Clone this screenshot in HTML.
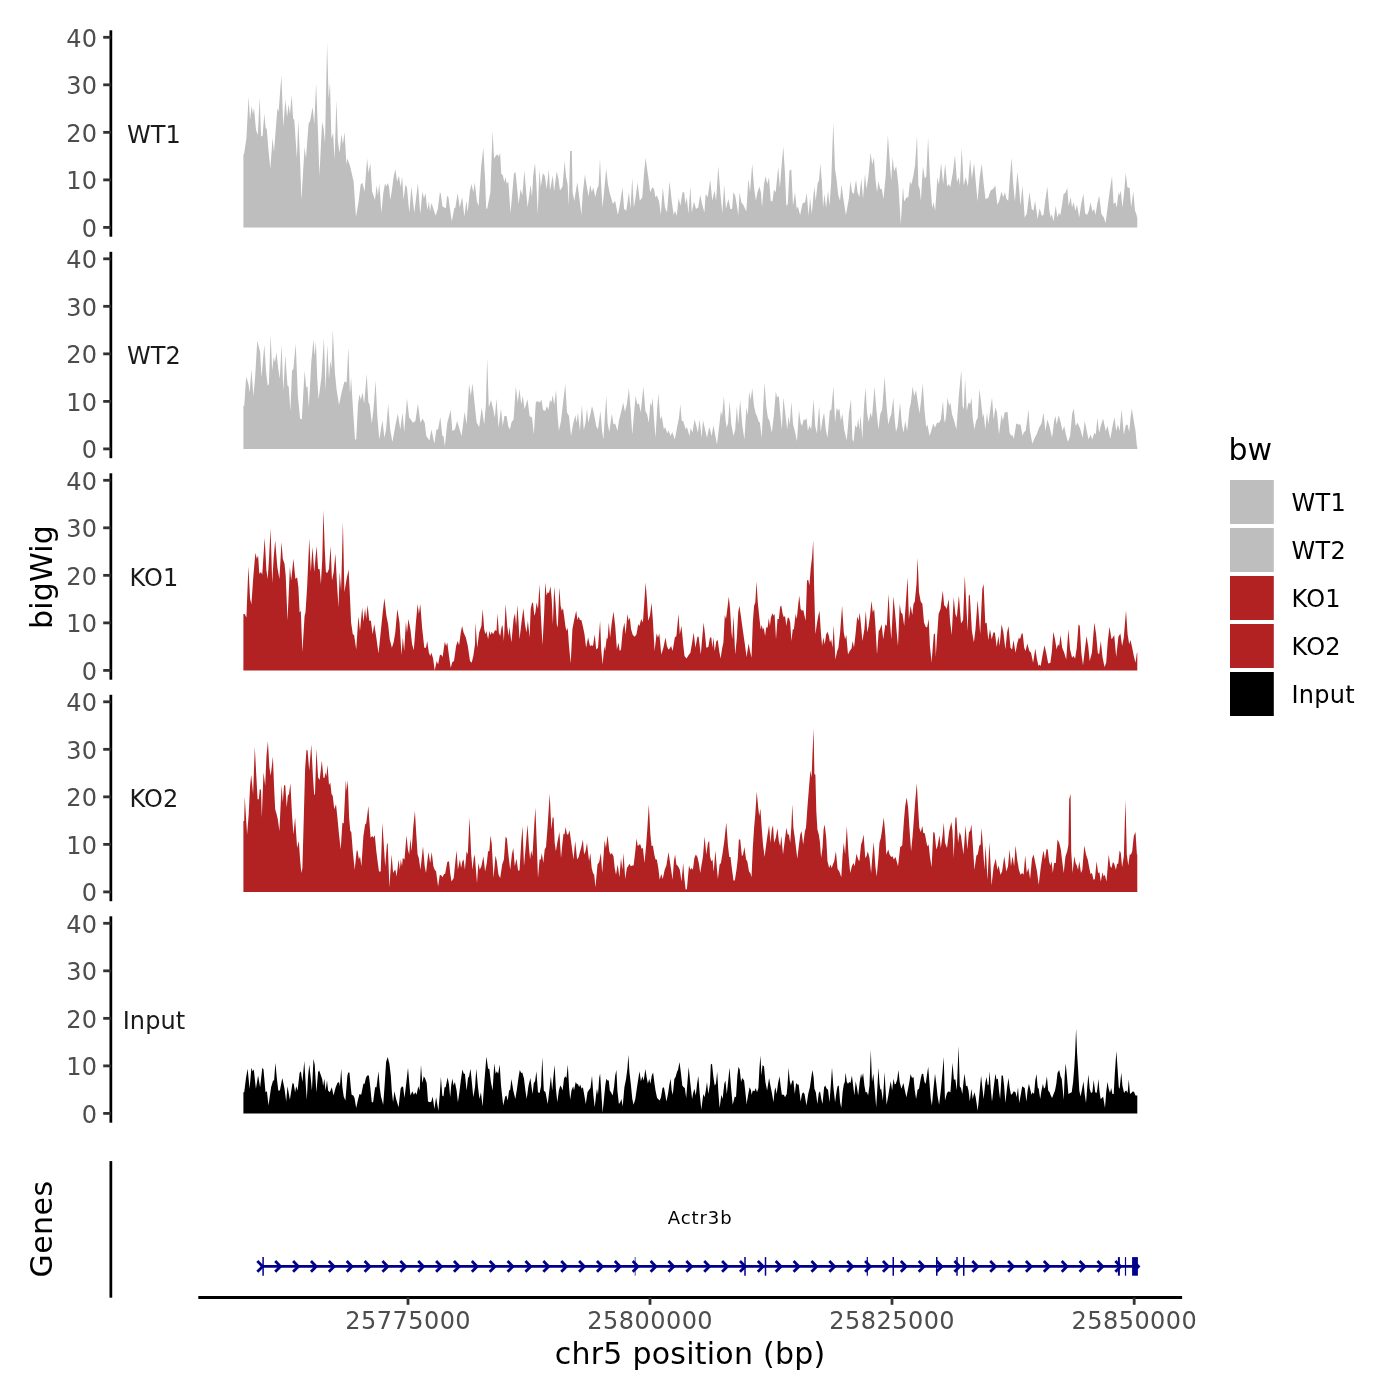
<!DOCTYPE html><html><head><meta charset="utf-8"><title>bigWig tracks</title><style>html,body{margin:0;padding:0;background:#fff}svg{display:block}text{font-family:"DejaVu Sans","Liberation Sans",sans-serif}</style></head><body>
<svg width="1400" height="1400" viewBox="0 0 1400 1400">
<rect width="1400" height="1400" fill="#fff"/>
<path d="M243.4 227.40L243.4 154.3L244.0 154.3L246.4 138.6L248.6 96.4L250.0 120.0L251.7 105.7L252.9 114.3L254.0 107.9L256.0 130.0L257.9 135.0L259.6 97.1L261.1 136.4L262.6 135.7L264.3 113.6L265.7 128.6L266.7 128.6L268.6 151.4L270.3 168.6L272.6 137.9L274.0 152.1L277.4 107.9L278.6 112.1L281.4 75.0L283.3 127.1L285.4 99.3L287.1 117.1L288.6 104.3L290.0 114.3L291.7 95.0L293.1 118.6L294.3 120.0L296.9 158.6L298.3 120.0L300.0 158.6L301.4 200.0L304.6 147.1L306.0 158.6L308.6 123.6L310.0 121.4L312.6 107.1L314.3 124.3L316.1 83.6L317.9 130.0L319.4 175.7L322.1 122.1L323.6 128.6L325.0 142.9L327.1 42.9L328.6 98.6L330.0 82.9L331.4 138.6L333.1 132.9L334.6 160.0L336.4 100.0L337.9 141.4L339.6 152.9L341.4 134.3L342.9 144.3L344.6 132.1L346.4 164.3L347.4 158.6L350.0 165.7L353.6 181.4L356.0 217.1L358.6 201.4L360.7 184.3L362.4 182.9L364.6 191.4L367.1 158.6L368.6 172.9L370.3 162.9L372.1 191.4L375.0 200.0L376.7 185.0L377.9 195.7L379.3 183.6L381.4 212.9L383.3 192.9L385.0 183.6L386.4 186.4L387.6 182.9L389.0 186.4L390.3 200.0L391.7 191.4L393.6 177.1L395.4 169.3L397.1 181.4L398.9 175.7L400.7 187.1L402.1 176.4L403.6 200.0L405.4 185.0L406.9 187.1L409.3 212.9L411.4 186.4L414.3 212.9L417.9 182.9L420.3 214.3L422.4 191.4L424.0 198.6L425.4 192.9L427.4 210.0L428.9 201.4L430.0 211.4L431.4 202.9L435.7 215.7L437.9 208.6L439.9 192.1L440.8 193.9L442.5 206.5L445.9 208.2L447.1 195.6L448.4 197.3L451.8 221.6L454.3 208.2L455.4 207.4L457.6 193.1L459.8 207.4L462.2 197.3L464.3 216.6L466.5 200.7L467.7 212.4L469.9 190.6L471.6 183.9L473.2 192.3L474.8 182.5L476.9 201.5L478.6 205.7L481.1 167.1L483.3 147.8L485.0 177.2L486.2 209.0L487.3 208.2L490.4 192.3L492.5 131.0L494.1 158.7L496.2 155.3L497.9 154.5L498.8 157.0L500.1 152.8L501.3 173.8L502.9 175.5L504.3 182.2L505.5 177.2L506.8 183.9L508.3 181.3L510.5 213.2L512.5 190.6L513.9 173.8L515.5 172.1L517.2 188.9L518.6 204.0L520.6 188.9L522.3 195.6L524.4 170.4L526.5 195.6L527.6 207.4L530.6 184.7L532.0 197.3L533.2 175.5L535.0 162.9L536.2 180.5L537.7 214.1L539.5 168.8L540.7 187.2L542.9 172.9L544.9 176.3L546.6 188.9L548.8 169.6L550.0 190.6L552.8 175.5L554.1 191.4L556.7 171.3L558.4 178.8L560.0 190.6L562.5 186.4L564.6 161.2L566.2 177.2L567.6 183.9L568.8 205.7L570.1 151.1L571.8 151.1L572.6 192.3L574.3 200.7L577.3 182.2L579.3 197.3L581.4 214.9L582.7 193.9L584.9 174.6L586.9 187.2L588.6 196.4L590.2 184.7L591.9 192.3L593.3 187.2L595.3 197.3L597.0 188.9L598.6 185.5L600.0 158.7L601.1 183.9L602.5 207.4L604.2 190.6L606.2 168.4L607.9 183.9L609.5 192.3L612.9 204.0L615.1 200.7L617.9 214.9L620.5 200.7L622.5 187.2L624.1 209.0L626.3 210.7L628.9 192.3L630.5 209.0L632.2 178.0L633.9 207.4L635.6 197.3L637.6 182.5L639.8 200.7L642.3 197.3L644.0 173.8L645.6 157.8L647.3 170.4L649.0 182.2L650.2 192.3L652.4 187.2L654.0 188.9L655.4 197.3L656.9 195.6L659.1 201.5L660.8 214.9L662.8 187.2L665.0 207.4L667.0 212.4L669.5 181.3L671.7 200.7L673.7 214.9L675.0 210.7L676.7 215.8L678.7 198.1L680.4 205.7L682.5 192.3L684.2 192.3L685.4 204.0L686.8 197.3L688.4 214.1L690.4 186.4L691.8 212.4L694.0 201.5L696.0 209.0L698.2 207.4L700.2 194.8L701.9 203.2L704.4 212.4L705.7 193.9L707.7 197.3L710.2 179.7L712.3 200.7L714.5 190.6L716.1 200.7L718.3 166.2L720.3 192.3L722.3 213.2L724.2 184.7L725.9 209.0L728.4 199.0L730.4 209.0L732.1 209.0L733.4 192.3L735.1 195.6L736.6 204.0L738.3 214.9L739.6 192.3L741.3 202.3L743.8 205.7L746.3 211.6L748.4 178.8L750.0 192.3L752.2 163.7L754.2 188.9L755.9 200.7L757.3 193.1L759.4 186.4L761.0 193.1L762.0 207.4L764.0 183.9L765.6 176.3L767.3 183.9L769.0 177.2L770.7 200.7L772.4 201.5L774.0 189.7L775.7 192.3L778.2 167.1L779.9 188.1L781.6 165.4L783.3 146.6L785.0 173.8L786.3 205.7L787.8 204.0L789.5 170.4L791.3 169.6L793.0 205.7L795.0 192.3L796.7 209.0L797.9 206.5L800.1 214.9L802.6 203.2L805.1 202.3L806.8 193.1L808.5 215.8L810.1 198.1L811.8 214.1L814.3 186.4L815.7 200.7L817.7 183.0L819.0 180.5L820.4 163.7L821.9 182.2L823.1 207.4L824.4 193.9L826.1 207.4L828.1 190.6L829.4 205.7L831.1 183.9L833.3 122.6L835.0 168.8L836.5 178.8L838.2 194.8L840.0 200.7L841.5 184.7L843.4 199.0L845.9 214.9L848.8 199.0L850.4 181.3L852.1 192.3L853.8 193.9L856.0 179.7L857.6 192.3L859.3 197.3L861.3 178.8L863.0 199.0L865.0 173.8L866.4 188.9L868.4 176.3L870.6 152.8L872.2 164.6L873.9 157.8L875.6 180.5L877.0 192.3L878.5 181.3L880.1 188.9L881.8 188.9L883.5 199.0L885.7 175.5L887.9 135.2L889.9 163.7L891.2 180.5L892.7 157.0L894.1 171.3L896.2 166.2L898.3 183.9L900.8 224.2L903.0 186.4L904.1 201.5L906.7 197.3L908.3 197.3L910.0 181.3L911.3 184.7L913.4 175.5L915.0 165.4L917.0 136.0L918.4 185.5L919.7 188.9L920.9 200.7L922.9 166.2L924.8 178.8L926.3 176.3L928.1 137.7L930.1 180.5L932.2 208.2L933.5 202.3L935.2 210.7L937.4 177.2L938.9 184.7L941.1 162.9L943.1 183.9L945.2 163.7L947.3 186.4L949.0 183.9L950.3 187.2L952.8 172.9L955.0 155.3L957.0 182.2L958.7 177.2L959.9 185.5L961.7 147.8L963.7 185.5L965.7 177.2L967.9 186.4L970.1 158.7L971.8 178.8L974.1 162.9L975.8 182.2L977.5 201.5L979.7 177.2L981.7 163.7L983.9 185.5L985.5 199.0L988.1 198.1L990.6 190.6L993.1 188.9L995.3 185.5L997.3 204.8L999.0 201.5L1001.5 191.4L1003.2 197.3L1004.9 192.3L1006.5 199.0L1008.2 200.7L1009.9 177.2L1011.6 157.8L1013.2 183.9L1014.9 201.5L1017.4 172.1L1019.1 188.1L1020.5 205.7L1022.5 185.5L1024.7 217.4L1026.7 214.1L1029.5 192.3L1031.7 209.0L1033.4 210.7L1035.1 200.7L1037.6 219.1L1039.6 208.2L1041.8 215.8L1043.5 214.9L1045.1 201.5L1047.3 186.4L1049.3 209.9L1050.7 217.4L1051.8 214.1L1053.5 221.6L1055.7 205.7L1057.4 217.4L1059.1 212.4L1060.2 215.8L1061.9 205.7L1063.6 193.9L1065.3 193.1L1067.3 188.1L1068.6 205.7L1070.7 197.3L1072.0 207.4L1073.7 202.3L1075.3 210.7L1077.0 204.8L1079.2 217.4L1081.2 204.0L1083.4 193.9L1085.1 213.2L1087.1 214.9L1088.8 210.7L1090.5 202.3L1092.5 211.6L1094.2 209.0L1095.5 214.9L1097.2 204.0L1099.2 195.6L1101.4 214.1L1103.9 217.4L1105.6 223.3L1107.8 205.7L1109.8 190.6L1112.0 176.3L1113.6 204.0L1115.3 202.3L1116.8 207.4L1118.5 192.3L1119.5 195.6L1120.7 190.6L1122.4 207.4L1124.0 193.9L1125.7 172.9L1127.4 187.2L1129.6 188.1L1131.2 207.4L1133.3 191.4L1135.0 210.7L1136.3 214.1L1137.0 217.4L1137.3 217.4L1137.3 227.40 Z" fill="#bebebe"/>
<line x1="110.85" x2="110.85" y1="30.30" y2="236.70" stroke="#000" stroke-width="2.75"/>
<line x1="103.2" x2="110.85" y1="227.40" y2="227.40" stroke="#333" stroke-width="2.8"/>
<text x="97.6" y="236.70" font-size="24" letter-spacing="0.45" fill="#4d4d4d" text-anchor="end">0</text>
<line x1="103.2" x2="110.85" y1="179.88" y2="179.88" stroke="#333" stroke-width="2.8"/>
<text x="97.6" y="189.18" font-size="24" letter-spacing="0.45" fill="#4d4d4d" text-anchor="end">10</text>
<line x1="103.2" x2="110.85" y1="132.35" y2="132.35" stroke="#333" stroke-width="2.8"/>
<text x="97.6" y="141.65" font-size="24" letter-spacing="0.45" fill="#4d4d4d" text-anchor="end">20</text>
<line x1="103.2" x2="110.85" y1="84.82" y2="84.82" stroke="#333" stroke-width="2.8"/>
<text x="97.6" y="94.12" font-size="24" letter-spacing="0.45" fill="#4d4d4d" text-anchor="end">30</text>
<line x1="103.2" x2="110.85" y1="37.30" y2="37.30" stroke="#333" stroke-width="2.8"/>
<text x="97.6" y="46.60" font-size="24" letter-spacing="0.45" fill="#4d4d4d" text-anchor="end">40</text>
<text x="154.0" y="142.85" font-size="24" letter-spacing="0.12" fill="#1a1a1a" text-anchor="middle">WT1</text>
<path d="M243.4 448.90L243.4 405.9L244.2 405.9L246.2 376.6L248.4 384.1L249.7 392.5L251.4 369.8L253.4 395.9L255.1 377.4L257.3 340.5L259.3 348.9L260.1 351.4L261.5 377.4L264.3 344.7L266.0 370.7L267.7 385.8L268.9 384.1L270.6 334.6L272.2 370.7L273.6 357.2L274.9 362.3L276.4 352.2L278.3 369.0L279.8 379.1L281.6 344.7L283.3 390.8L285.3 355.6L287.5 385.8L288.7 386.6L290.4 411.0L292.0 370.7L293.4 369.0L295.7 343.8L297.9 395.9L300.1 418.5L301.8 419.4L304.6 370.7L306.3 387.5L307.5 386.6L308.8 407.6L311.3 362.3L313.4 339.6L314.7 355.6L315.9 341.3L317.2 377.4L318.6 399.2L321.4 377.4L323.9 337.9L325.6 390.8L327.3 344.7L329.0 379.1L330.3 360.6L331.5 369.0L332.8 329.6L334.9 372.4L336.5 389.1L339.0 405.1L341.6 392.5L344.4 381.6L346.6 382.4L348.4 347.2L349.9 394.2L351.1 377.4L352.8 405.9L355.0 439.5L356.2 439.5L358.0 404.3L359.5 394.2L360.9 400.1L362.5 392.5L364.2 403.4L366.7 374.0L368.4 402.6L369.6 404.3L371.8 423.6L373.5 409.3L375.6 380.8L377.3 416.0L379.3 439.5L382.4 420.2L384.4 437.8L386.1 429.4L388.2 404.3L390.2 429.4L392.4 442.0L395.3 426.1L397.8 413.5L400.3 429.4L402.5 412.6L404.2 431.9L407.0 398.4L409.2 417.7L410.9 419.4L412.9 422.7L415.4 421.0L417.9 403.4L420.5 422.7L422.6 418.5L424.7 422.7L426.3 436.1L429.4 440.4L431.4 429.4L434.4 443.7L436.4 429.4L438.1 429.4L440.3 416.9L442.3 436.1L443.5 436.1L444.8 446.2L447.3 422.7L450.7 410.1L452.4 431.1L454.9 429.4L457.1 421.0L459.1 427.8L461.6 436.1L464.6 411.8L466.6 424.4L469.1 384.1L470.8 395.9L472.5 383.3L473.8 395.9L475.0 407.6L476.7 422.7L479.2 426.9L481.7 407.6L484.2 424.4L485.9 404.3L487.2 358.1L488.8 407.6L490.9 400.1L493.1 408.4L494.8 417.7L496.5 398.4L498.5 427.8L501.0 408.4L502.7 426.1L504.4 416.0L506.6 416.0L508.2 426.1L509.9 429.4L511.6 421.9L513.6 419.4L515.8 386.6L517.8 402.6L519.5 389.1L521.2 404.3L522.8 395.9L524.5 409.3L525.9 405.1L527.5 399.2L529.6 416.0L532.1 417.7L533.8 434.5L535.8 402.6L537.5 400.9L539.6 402.6L541.6 400.1L543.0 410.1L545.2 411.0L546.9 405.9L548.4 410.1L550.0 400.1L551.4 402.6L552.7 395.0L554.2 405.1L556.1 390.0L557.6 416.0L558.9 431.1L561.0 421.0L563.1 402.6L565.3 384.1L567.0 412.6L569.0 416.0L571.0 436.1L573.2 423.6L575.4 415.2L576.6 422.7L577.9 412.6L579.9 431.1L581.9 405.1L583.8 430.3L585.5 422.7L587.0 408.4L588.3 422.7L590.5 413.5L592.0 405.9L593.9 413.5L596.2 426.1L598.0 429.4L600.4 411.0L602.1 431.1L603.4 439.5L604.8 417.7L606.3 395.9L607.6 422.7L609.3 431.9L611.8 413.5L613.5 424.4L615.2 423.6L617.4 431.1L619.0 420.2L621.0 412.6L623.2 402.6L624.9 411.8L626.9 404.3L628.9 388.3L630.6 409.3L632.3 434.5L634.1 412.6L635.6 395.9L637.3 404.3L639.0 403.4L640.7 412.6L643.4 386.6L645.4 411.0L647.1 414.3L648.8 422.7L650.4 402.6L651.6 405.9L652.6 397.5L653.8 416.0L655.5 437.8L657.1 409.3L658.5 393.3L660.2 419.4L661.7 416.0L663.9 429.4L665.2 426.9L667.2 433.6L668.5 430.3L670.6 436.1L672.2 431.9L674.8 439.5L677.3 426.1L679.0 417.7L680.3 404.3L681.8 421.0L683.2 421.0L685.7 429.4L686.9 426.9L689.5 436.1L690.7 427.8L692.4 432.8L694.6 419.4L696.6 426.9L697.9 432.8L699.6 419.4L701.6 437.8L703.0 420.2L705.0 429.4L707.0 437.8L709.2 426.9L710.0 429.4L711.7 436.1L713.4 425.2L715.4 436.1L717.0 444.5L719.2 426.1L720.9 411.0L722.1 416.0L723.9 395.9L725.6 421.0L726.8 427.8L728.1 422.7L729.6 400.9L731.3 424.4L733.5 436.1L735.2 429.4L736.9 405.9L738.2 424.4L740.2 400.1L742.2 424.4L744.4 439.5L746.4 407.6L747.8 415.2L749.1 391.7L750.6 400.1L752.3 388.3L754.0 405.9L755.7 413.5L757.0 416.0L758.4 421.0L759.9 422.7L761.7 437.8L763.4 402.6L764.6 382.4L766.2 405.9L767.9 417.7L769.6 421.0L771.8 432.8L773.8 416.0L775.8 391.7L777.1 397.5L778.8 395.9L780.5 416.0L781.9 429.4L783.4 397.5L785.0 411.0L787.2 429.4L788.6 416.0L789.7 425.2L791.4 401.7L793.1 424.4L794.8 431.1L797.0 441.2L799.0 410.1L800.6 422.7L802.0 426.1L803.7 419.4L805.2 420.2L806.5 417.7L807.9 431.1L809.5 425.2L811.2 429.4L813.6 399.2L815.2 426.1L816.9 433.6L819.1 405.9L820.8 431.9L822.5 419.4L824.1 412.6L825.8 429.4L827.5 437.8L830.0 409.3L831.2 411.0L833.4 386.6L835.1 422.7L836.7 407.6L837.9 411.0L839.3 408.4L840.9 421.0L842.3 413.5L844.3 430.3L846.8 440.4L849.0 412.6L851.0 399.2L852.4 439.5L853.5 442.0L855.2 425.2L856.9 427.8L858.2 418.5L859.4 429.4L860.6 415.2L862.3 439.5L864.1 404.3L865.6 387.5L867.0 412.6L868.6 421.9L870.6 412.6L872.0 417.7L874.5 386.6L876.5 411.0L878.4 429.4L880.4 413.5L882.1 410.1L884.6 376.6L886.6 405.9L888.3 424.4L890.0 417.7L891.3 414.3L893.3 397.5L894.7 419.4L896.0 431.9L897.7 426.1L900.0 402.6L901.9 424.4L903.5 432.8L905.2 421.0L907.2 431.1L909.4 409.3L910.9 402.6L912.6 386.6L914.3 395.9L916.0 390.0L917.6 400.9L919.5 413.5L921.2 399.2L922.7 383.3L924.5 410.1L926.2 426.9L927.4 424.4L929.6 436.1L931.2 431.1L933.3 423.6L935.0 427.8L937.0 422.7L939.1 422.7L940.8 419.4L943.0 400.9L944.2 419.4L945.0 422.7L946.3 413.5L947.5 397.5L949.2 405.9L950.4 402.6L952.0 414.3L954.2 421.0L956.4 429.4L958.8 395.9L961.3 369.8L962.6 405.9L963.8 409.3L965.1 379.1L966.8 411.0L968.5 402.6L970.2 404.3L971.5 397.5L972.7 417.7L974.4 429.4L976.1 421.0L977.7 417.7L979.4 389.1L981.1 402.6L982.8 417.7L983.6 413.5L985.3 429.4L987.0 412.6L988.3 424.4L990.3 409.3L992.0 397.5L993.7 419.4L995.4 407.6L997.0 412.6L999.0 434.5L1001.6 414.3L1002.9 421.0L1004.6 412.6L1007.5 411.8L1009.6 432.8L1011.3 436.1L1012.1 434.5L1013.8 438.7L1016.3 423.6L1018.5 424.4L1020.5 424.4L1022.6 436.1L1023.9 431.9L1025.6 431.1L1027.3 419.4L1028.4 409.3L1029.8 429.4L1032.3 443.7L1034.8 437.8L1037.0 433.6L1039.0 427.8L1041.5 423.6L1043.5 412.6L1045.4 431.1L1047.4 419.4L1049.4 426.1L1052.1 437.8L1054.1 421.0L1055.5 416.0L1056.6 424.4L1058.7 415.2L1060.8 422.7L1062.5 431.1L1064.2 426.1L1065.9 434.5L1067.9 442.0L1070.1 436.1L1072.2 413.5L1073.8 408.4L1075.6 426.1L1077.6 422.7L1080.1 428.6L1082.7 437.8L1084.7 421.0L1086.8 431.1L1088.5 439.5L1090.5 434.5L1092.2 439.5L1094.4 432.8L1095.8 434.5L1097.4 417.7L1099.1 432.8L1100.8 426.1L1103.1 418.5L1105.7 431.1L1107.5 426.1L1110.3 438.7L1112.4 426.9L1114.5 416.9L1116.2 431.1L1117.9 424.4L1119.6 431.1L1121.6 409.3L1123.8 434.5L1125.8 425.2L1127.5 424.4L1129.2 431.9L1130.5 417.7L1131.8 408.4L1133.8 421.0L1135.5 431.1L1136.9 446.2L1137.3 446.2L1137.3 448.90 Z" fill="#bebebe"/>
<line x1="110.85" x2="110.85" y1="251.80" y2="458.20" stroke="#000" stroke-width="2.75"/>
<line x1="103.2" x2="110.85" y1="448.90" y2="448.90" stroke="#333" stroke-width="2.8"/>
<text x="97.6" y="458.20" font-size="24" letter-spacing="0.45" fill="#4d4d4d" text-anchor="end">0</text>
<line x1="103.2" x2="110.85" y1="401.38" y2="401.38" stroke="#333" stroke-width="2.8"/>
<text x="97.6" y="410.68" font-size="24" letter-spacing="0.45" fill="#4d4d4d" text-anchor="end">10</text>
<line x1="103.2" x2="110.85" y1="353.85" y2="353.85" stroke="#333" stroke-width="2.8"/>
<text x="97.6" y="363.15" font-size="24" letter-spacing="0.45" fill="#4d4d4d" text-anchor="end">20</text>
<line x1="103.2" x2="110.85" y1="306.32" y2="306.32" stroke="#333" stroke-width="2.8"/>
<text x="97.6" y="315.62" font-size="24" letter-spacing="0.45" fill="#4d4d4d" text-anchor="end">30</text>
<line x1="103.2" x2="110.85" y1="258.80" y2="258.80" stroke="#333" stroke-width="2.8"/>
<text x="97.6" y="268.10" font-size="24" letter-spacing="0.45" fill="#4d4d4d" text-anchor="end">40</text>
<text x="154.0" y="364.35" font-size="24" letter-spacing="0.12" fill="#1a1a1a" text-anchor="middle">WT2</text>
<path d="M243.4 670.40L243.4 614.1L244.7 614.1L246.4 617.5L248.4 566.3L250.1 599.0L251.4 604.0L253.4 575.5L255.4 552.8L256.8 558.7L258.1 555.4L259.3 573.8L261.0 572.1L262.2 574.7L264.7 537.7L266.4 570.5L267.7 578.9L268.9 560.4L270.6 528.5L272.2 583.1L273.6 558.7L275.2 540.2L277.3 567.1L279.4 578.9L281.5 541.9L282.8 558.7L284.5 563.8L285.7 575.5L287.5 620.8L289.9 567.1L291.2 580.5L293.4 558.7L295.4 578.9L297.1 577.2L298.4 587.3L299.6 612.4L300.8 610.8L302.4 651.9L304.6 615.8L305.5 612.4L307.1 587.3L309.3 538.6L310.8 572.1L312.5 547.0L314.2 572.1L316.6 546.1L318.1 568.8L319.7 569.6L320.9 583.9L322.3 558.7L323.4 510.0L324.8 550.3L325.9 572.1L327.3 573.0L329.0 568.8L330.6 546.1L332.0 580.5L333.7 572.1L335.4 553.7L337.0 583.9L338.5 607.4L339.7 572.1L341.1 590.6L342.9 521.8L344.4 592.3L346.6 578.9L348.6 569.6L349.9 595.6L351.1 622.5L352.8 634.3L354.1 635.1L356.2 649.4L358.4 616.6L360.0 630.9L362.2 607.4L363.4 621.7L365.1 608.2L366.2 619.1L367.6 604.9L369.3 620.8L370.9 620.8L372.6 634.3L374.3 624.2L376.3 637.6L378.5 653.6L381.0 629.2L382.7 612.4L384.4 598.2L386.4 615.8L388.1 624.2L389.7 639.3L391.9 647.7L393.6 642.6L395.3 632.6L397.3 609.1L399.5 622.5L401.5 655.2L402.8 637.6L404.2 651.0L405.9 621.7L407.0 632.6L408.4 619.1L410.4 629.2L412.1 644.3L413.8 650.2L415.9 622.5L417.6 604.0L418.9 614.1L420.3 604.0L422.1 627.5L424.3 647.7L426.0 647.7L427.2 641.0L428.9 652.7L430.2 656.1L431.4 652.7L433.1 658.6L434.7 670.4L436.7 661.1L438.1 664.5L439.8 655.2L441.1 654.4L442.6 656.9L444.8 641.8L446.1 646.0L447.3 642.6L449.0 656.1L450.7 667.8L452.4 662.0L454.0 661.1L456.1 646.0L457.7 641.0L459.1 645.2L460.8 632.6L462.1 625.9L463.6 632.6L465.8 637.6L467.8 646.0L470.0 661.1L471.7 662.8L473.3 656.1L475.0 644.3L475.5 622.5L477.2 647.7L479.2 632.6L481.4 625.9L482.7 609.1L484.2 629.2L485.4 634.3L486.4 630.9L488.1 639.3L489.4 630.9L490.6 635.1L491.8 631.7L493.1 634.3L495.1 630.1L496.5 630.9L497.5 613.3L498.8 632.6L500.2 635.9L501.5 627.5L502.5 625.0L503.9 641.0L505.6 604.0L507.2 625.9L508.6 635.9L509.4 626.7L511.4 642.6L513.6 619.1L515.0 613.3L516.1 625.9L517.5 604.9L519.5 639.3L521.7 620.8L523.4 608.2L525.0 624.2L526.5 632.6L527.9 620.8L529.6 637.6L530.7 609.1L532.1 602.4L533.1 603.2L534.3 615.8L535.4 612.4L536.6 602.4L538.0 609.1L539.5 584.2L540.8 614.1L542.5 645.2L544.2 612.4L545.3 582.2L546.5 595.6L547.7 592.3L549.0 593.1L550.5 586.4L551.7 599.0L552.9 624.2L554.2 586.4L555.6 604.0L556.8 624.2L557.8 627.5L559.4 587.3L560.6 605.7L561.8 610.8L563.0 608.2L564.3 617.5L565.6 627.5L566.8 630.9L567.7 627.5L569.0 646.0L570.7 663.6L572.4 629.2L574.0 620.8L576.2 610.8L577.4 620.0L578.7 616.6L579.9 620.0L581.3 620.0L582.8 625.9L584.5 634.3L586.1 647.7L588.1 637.6L590.0 646.0L591.7 645.2L593.0 646.0L594.7 634.3L596.2 649.4L598.0 647.7L600.1 620.8L601.2 649.4L602.6 664.5L604.3 646.0L605.1 651.0L606.8 637.6L607.6 639.3L608.8 622.5L610.1 637.6L611.8 622.5L613.5 611.6L615.2 625.9L616.9 649.4L618.5 642.6L619.7 651.0L621.0 649.4L622.7 630.9L624.4 622.5L625.6 634.3L627.4 614.1L628.6 620.8L629.8 617.5L631.1 629.2L632.8 635.1L634.8 636.8L636.5 634.3L638.2 624.2L639.5 625.9L641.2 619.1L642.9 622.5L644.2 604.0L645.6 582.6L646.9 599.0L648.2 620.8L649.9 615.8L651.6 602.7L652.9 620.8L654.6 651.0L656.6 633.4L658.0 637.6L659.3 633.4L661.3 654.4L663.4 647.7L665.5 637.6L666.9 646.0L668.4 649.4L669.7 648.5L671.1 646.0L672.6 651.0L674.8 637.6L676.4 635.9L678.5 614.1L679.8 634.3L681.5 625.9L683.2 644.3L684.5 656.1L686.5 658.6L688.5 655.2L690.4 652.7L692.1 642.6L693.7 632.6L695.4 647.7L697.4 636.8L698.6 636.8L700.8 654.4L702.1 639.3L703.6 622.5L705.0 634.3L706.3 647.7L708.3 646.9L710.0 637.6L711.3 637.6L712.4 647.7L713.4 637.6L714.7 651.0L716.4 641.0L717.7 640.1L719.2 651.0L720.6 658.6L722.1 648.5L723.4 642.6L724.8 615.0L726.0 619.1L727.3 609.1L728.8 596.5L730.1 609.1L731.5 632.6L732.3 639.3L733.5 615.8L735.2 654.4L736.9 637.6L738.2 612.4L739.4 605.7L741.1 617.5L742.7 629.2L744.4 641.0L746.6 656.9L748.6 643.5L750.0 651.0L751.5 657.8L752.8 622.5L754.1 605.7L755.3 602.4L756.5 581.4L757.8 602.4L759.5 619.1L760.7 629.2L761.7 625.0L762.9 630.1L763.7 627.5L765.1 635.9L766.2 627.5L767.6 627.5L768.8 618.3L769.9 625.9L770.9 617.5L772.5 613.3L773.5 615.8L774.6 614.1L776.0 639.3L777.5 619.1L778.8 619.1L780.2 606.6L781.3 605.7L782.7 614.1L783.9 617.5L785.0 615.8L786.4 625.9L787.6 618.3L788.9 617.5L790.2 622.5L791.4 641.0L792.8 629.2L793.9 629.2L795.6 614.1L796.8 619.1L798.1 605.7L799.3 595.6L800.6 609.1L802.0 610.8L803.3 609.9L804.5 615.8L805.7 620.8L807.0 580.5L808.2 579.7L809.4 585.6L810.7 568.8L812.1 557.0L813.2 540.2L814.1 585.6L815.4 634.3L817.1 622.5L818.3 615.8L819.5 610.8L820.8 630.9L822.1 646.0L823.3 637.6L824.7 644.3L826.2 634.3L827.5 631.7L828.9 635.9L830.0 642.6L831.2 639.3L832.5 647.7L833.7 625.0L835.4 659.4L837.2 651.0L838.4 647.7L840.1 632.6L842.1 605.7L843.8 632.6L845.1 639.3L846.3 635.1L848.0 654.4L849.7 651.0L851.5 648.5L852.7 641.0L854.0 647.7L855.7 632.6L857.2 616.6L858.6 620.8L859.7 612.4L861.1 625.9L862.4 641.0L864.4 629.2L865.8 610.8L867.3 632.6L868.6 625.9L870.0 615.8L871.5 600.7L872.8 612.4L874.2 609.1L875.4 625.9L877.0 654.4L878.7 630.9L880.0 629.2L881.6 624.2L883.2 639.3L885.4 624.2L886.8 625.9L888.6 594.0L890.0 622.5L891.3 639.3L893.5 596.5L895.2 614.1L896.7 632.6L898.0 646.0L899.7 604.0L901.0 612.4L902.5 614.1L904.2 625.9L906.1 599.0L907.6 577.2L908.9 619.1L910.6 605.7L912.3 615.0L913.5 604.0L914.8 601.5L916.5 583.9L917.6 557.9L919.0 592.3L920.7 601.5L922.4 604.0L924.0 622.5L925.7 626.7L927.1 627.5L928.7 619.1L929.9 646.0L931.6 662.0L933.8 634.3L935.0 633.4L935.8 656.1L937.1 635.9L938.6 614.1L940.5 609.1L942.8 590.6L944.2 605.7L945.0 605.7L946.7 609.1L948.7 599.0L950.0 620.8L951.7 635.1L953.7 597.3L955.4 614.1L956.8 617.5L958.9 595.6L961.0 623.4L963.1 620.0L964.8 575.5L966.3 605.7L967.7 630.9L968.8 595.6L969.8 594.8L971.9 630.9L973.9 642.6L975.5 629.2L977.6 599.9L979.1 619.1L980.2 634.3L982.3 588.9L983.6 583.9L985.3 623.4L986.6 622.5L988.3 640.1L990.0 629.2L991.7 639.3L993.4 632.6L994.9 632.6L996.7 646.9L998.4 635.9L999.6 646.0L1001.6 624.2L1003.4 632.6L1005.4 649.4L1007.1 632.6L1008.5 625.9L1010.5 647.7L1012.1 649.4L1013.5 640.1L1015.5 652.7L1017.2 643.5L1018.9 637.6L1020.0 639.3L1021.7 633.4L1022.7 633.4L1024.2 647.7L1025.6 651.0L1027.3 643.5L1029.3 651.0L1031.0 652.7L1033.1 662.8L1035.3 648.5L1037.0 659.4L1038.5 666.1L1039.5 664.5L1040.7 666.1L1042.4 656.1L1044.5 645.2L1046.2 652.7L1048.2 663.6L1050.4 662.8L1051.9 651.0L1053.3 631.7L1055.0 639.3L1056.6 649.4L1058.0 644.3L1059.2 646.0L1060.5 635.1L1062.2 647.7L1064.2 652.7L1066.2 659.4L1068.4 629.2L1070.1 649.4L1072.1 657.8L1073.4 656.1L1075.1 658.6L1076.8 647.7L1078.5 624.2L1079.8 625.9L1081.3 652.7L1083.0 665.3L1084.7 651.0L1086.5 635.9L1088.2 646.0L1089.7 661.1L1091.9 652.7L1094.4 622.5L1096.1 634.3L1097.8 652.7L1099.1 654.4L1100.8 641.0L1102.5 656.9L1104.5 667.0L1106.2 662.8L1107.8 641.0L1109.5 626.7L1111.5 639.3L1112.9 637.6L1114.2 635.1L1116.2 656.9L1118.4 636.8L1120.4 633.4L1122.1 646.0L1123.8 637.6L1126.0 610.4L1127.6 634.3L1129.2 644.3L1130.5 640.1L1132.2 647.7L1133.8 656.1L1135.5 662.8L1136.9 652.7L1137.3 652.7L1137.3 670.40 Z" fill="#b22222"/>
<line x1="110.85" x2="110.85" y1="473.30" y2="679.70" stroke="#000" stroke-width="2.75"/>
<line x1="103.2" x2="110.85" y1="670.40" y2="670.40" stroke="#333" stroke-width="2.8"/>
<text x="97.6" y="679.70" font-size="24" letter-spacing="0.45" fill="#4d4d4d" text-anchor="end">0</text>
<line x1="103.2" x2="110.85" y1="622.88" y2="622.88" stroke="#333" stroke-width="2.8"/>
<text x="97.6" y="632.17" font-size="24" letter-spacing="0.45" fill="#4d4d4d" text-anchor="end">10</text>
<line x1="103.2" x2="110.85" y1="575.35" y2="575.35" stroke="#333" stroke-width="2.8"/>
<text x="97.6" y="584.65" font-size="24" letter-spacing="0.45" fill="#4d4d4d" text-anchor="end">20</text>
<line x1="103.2" x2="110.85" y1="527.82" y2="527.82" stroke="#333" stroke-width="2.8"/>
<text x="97.6" y="537.12" font-size="24" letter-spacing="0.45" fill="#4d4d4d" text-anchor="end">30</text>
<line x1="103.2" x2="110.85" y1="480.30" y2="480.30" stroke="#333" stroke-width="2.8"/>
<text x="97.6" y="489.60" font-size="24" letter-spacing="0.45" fill="#4d4d4d" text-anchor="end">40</text>
<text x="154.0" y="585.85" font-size="24" letter-spacing="0.12" fill="#1a1a1a" text-anchor="middle">KO1</text>
<path d="M243.4 891.90L243.4 821.0L244.2 821.0L244.7 796.7L247.1 834.4L248.7 814.3L250.1 785.8L251.2 774.8L253.1 794.1L254.8 747.1L256.4 777.4L257.6 799.2L258.8 799.2L259.8 789.1L261.0 790.0L261.8 817.6L263.5 772.3L265.2 785.8L266.5 755.5L267.9 741.3L269.4 767.3L270.7 775.7L271.9 765.6L272.9 756.4L274.1 787.4L275.2 809.3L276.6 814.3L277.8 819.3L279.4 831.1L281.6 784.9L282.8 802.5L284.1 784.9L285.3 785.8L286.7 807.6L287.8 795.8L289.0 794.1L290.4 783.2L292.0 814.3L293.4 834.4L295.1 817.6L297.1 847.9L298.8 841.1L300.1 859.6L301.3 873.0L302.4 868.0L303.8 817.6L305.1 769.0L306.5 749.7L307.6 750.5L309.2 770.6L311.3 744.6L313.0 777.4L314.2 795.0L315.0 794.1L316.4 748.8L318.1 777.4L319.7 779.9L321.8 760.6L323.4 777.4L324.4 778.2L325.6 772.3L326.4 776.5L327.5 764.8L329.0 784.9L330.3 782.4L331.5 794.1L332.7 795.8L334.3 809.3L336.0 804.2L337.4 817.6L339.0 834.4L340.7 849.5L342.4 822.7L343.7 823.5L345.8 779.9L346.6 790.8L347.8 779.9L349.1 817.6L350.3 831.1L351.3 831.9L352.8 851.2L354.7 869.7L356.7 850.4L357.5 850.4L358.9 859.6L360.0 856.3L361.4 866.3L363.4 836.1L365.1 824.4L366.2 823.5L368.4 805.9L369.6 824.4L370.6 837.8L372.3 836.1L373.5 837.8L374.8 835.3L376.3 851.2L377.6 861.3L379.0 871.4L380.7 871.4L382.4 822.7L384.0 847.9L385.2 866.3L386.9 844.5L387.7 842.8L389.4 887.3L391.6 854.6L393.1 873.0L394.4 870.5L395.4 869.7L396.6 876.4L398.6 859.6L399.8 869.7L400.8 859.6L402.0 866.3L402.8 857.9L404.5 859.6L406.5 835.3L407.9 849.5L409.2 854.6L410.4 838.6L411.6 851.2L413.2 827.7L414.9 810.9L416.3 834.4L417.6 854.6L418.8 857.9L420.5 869.7L423.0 846.2L424.7 866.3L426.0 873.0L428.4 852.1L430.2 863.0L431.7 852.1L433.4 866.3L434.7 869.7L436.1 871.4L438.1 886.5L439.8 874.7L441.4 875.6L442.6 877.2L444.0 873.9L445.1 873.9L447.3 862.1L449.0 861.3L450.2 873.0L451.5 881.4L453.7 878.1L455.4 861.3L456.6 850.4L457.9 869.7L459.9 859.6L461.1 868.0L462.4 861.3L463.6 859.6L464.9 869.7L466.6 851.2L467.8 854.6L469.5 817.6L471.2 854.6L472.5 869.7L474.2 854.6L475.0 857.9L477.0 883.1L478.4 863.0L479.7 869.7L481.4 866.3L483.4 856.3L485.1 871.4L486.8 863.0L488.1 851.2L489.3 851.2L490.6 835.3L491.8 844.5L493.5 878.1L495.5 855.4L496.8 861.3L498.5 874.7L500.2 878.1L502.2 864.6L503.9 859.6L505.6 836.5L506.9 838.6L508.6 856.3L510.2 869.7L511.9 854.6L513.3 847.9L514.8 866.3L516.5 858.8L518.1 870.5L519.5 870.5L521.2 842.8L522.5 826.0L524.0 866.3L525.9 844.5L527.5 824.4L529.0 847.9L530.1 859.6L531.2 850.4L532.4 856.3L534.1 827.7L535.4 807.6L536.8 844.5L538.0 878.1L539.6 859.6L540.8 859.6L541.8 852.9L543.3 863.0L544.7 849.5L546.0 847.0L547.5 827.7L549.7 793.8L551.4 829.4L552.6 817.6L553.6 817.6L554.7 842.8L555.9 851.2L557.3 842.8L559.4 831.9L561.0 857.9L562.3 844.5L563.5 833.6L564.5 834.4L565.6 826.9L567.0 834.4L568.2 834.4L569.5 830.2L571.0 841.1L572.4 851.2L573.5 859.6L575.2 841.1L577.1 859.6L578.7 857.1L579.9 852.1L581.3 847.0L582.9 839.5L584.1 854.6L585.5 851.2L587.0 842.8L588.1 852.9L589.1 861.3L590.3 852.9L591.7 868.0L593.0 873.0L594.2 874.7L595.5 887.3L597.5 864.6L599.2 862.1L600.9 852.9L602.2 873.0L603.4 857.9L604.6 840.3L605.9 847.9L607.6 835.3L609.3 851.2L610.5 854.6L611.8 852.9L613.5 856.3L614.7 868.0L616.0 874.7L617.7 864.6L619.4 877.2L621.0 857.9L622.4 869.7L623.6 852.9L625.2 878.9L626.9 868.0L628.1 866.3L629.4 863.8L630.8 866.3L632.3 865.5L633.6 865.5L635.3 851.2L636.5 838.6L637.8 846.2L639.2 844.5L640.4 844.5L641.5 848.7L642.9 847.9L644.5 863.0L646.2 844.5L647.4 827.7L648.8 804.6L650.4 834.4L651.6 846.2L652.9 845.4L654.3 854.6L655.5 859.6L656.8 859.6L658.3 868.0L659.7 879.8L661.3 873.9L662.7 878.9L664.7 869.7L666.4 865.5L668.5 852.1L670.6 866.3L672.6 879.8L673.9 861.3L675.1 854.6L676.4 864.6L678.1 866.3L679.8 869.7L681.5 881.4L683.2 863.0L684.3 878.1L685.7 889.8L686.9 889.0L689.0 865.5L690.4 869.7L691.5 868.0L692.9 869.7L694.4 857.9L695.8 854.6L697.4 857.1L698.8 863.0L700.3 873.0L701.6 864.6L703.0 856.3L704.6 836.5L706.3 854.6L708.0 842.8L709.2 841.1L710.0 856.3L711.3 861.3L712.5 859.6L713.7 871.4L715.4 850.4L716.7 866.3L717.9 878.9L719.6 864.6L720.9 863.0L722.6 852.9L724.3 841.1L726.3 822.4L728.0 846.2L729.3 857.1L730.5 857.1L731.8 868.0L733.5 880.6L734.8 880.6L736.5 869.7L737.7 859.6L738.9 839.5L740.2 839.5L741.9 856.3L743.1 854.6L744.4 847.0L746.1 859.6L747.3 861.3L749.0 871.4L750.3 873.0L751.5 877.2L752.8 847.9L754.1 827.7L755.3 814.3L756.7 791.6L758.2 807.6L759.2 816.0L760.4 808.4L761.7 827.7L763.0 844.5L764.6 857.1L766.2 844.5L767.6 834.4L769.1 825.2L770.4 842.8L771.8 829.4L773.0 825.2L774.1 842.8L775.8 837.8L777.5 828.6L778.8 841.1L780.2 846.2L781.3 836.1L783.0 854.6L784.7 841.1L786.4 827.7L787.7 834.4L788.9 834.4L790.2 842.8L791.4 826.0L792.3 804.2L793.4 827.7L794.8 837.8L796.0 847.9L797.3 858.8L799.0 844.5L800.3 834.4L801.5 831.1L803.2 844.5L804.9 831.1L806.0 827.7L807.4 807.6L809.0 787.4L810.4 770.6L811.6 777.4L812.7 748.8L813.6 728.7L814.4 774.0L815.4 774.8L816.3 810.9L817.4 829.4L818.8 834.4L820.0 842.8L821.1 857.9L822.5 847.9L823.6 829.4L824.7 824.4L826.2 837.8L827.5 861.3L829.2 868.0L830.5 864.6L831.7 868.0L832.9 864.6L834.2 861.3L835.9 851.2L837.6 868.9L839.3 871.4L841.3 877.2L842.6 854.6L843.8 842.8L845.1 854.6L846.8 826.0L848.5 854.6L850.2 873.0L851.9 866.3L853.5 863.0L854.7 866.3L856.5 853.7L858.2 859.6L859.4 861.3L861.1 844.5L862.3 841.1L863.6 834.4L865.3 857.9L866.5 856.3L867.8 851.2L869.5 857.9L871.1 873.0L872.5 854.6L873.7 842.0L875.4 866.3L876.7 876.4L878.4 857.9L879.5 842.8L880.9 837.8L882.1 829.4L883.8 817.6L885.4 836.1L886.3 854.6L888.3 849.5L889.6 854.6L891.3 857.1L892.6 856.3L893.8 859.6L895.5 857.1L896.7 861.3L898.0 866.3L900.2 847.0L902.2 845.4L903.9 821.0L905.2 805.9L906.7 797.5L908.1 807.6L909.4 827.7L911.1 851.2L912.6 836.1L914.0 817.6L915.1 802.5L916.8 783.2L918.2 809.3L919.3 827.7L920.7 831.9L922.4 826.0L923.2 832.8L924.9 833.6L926.5 842.8L927.4 846.2L928.6 844.5L929.9 856.3L931.6 867.2L933.3 831.9L934.6 832.8L936.3 849.5L937.5 846.2L939.5 835.3L940.8 847.9L942.5 836.1L943.8 822.7L945.0 842.8L947.0 847.9L949.2 831.1L951.4 821.9L952.5 831.1L953.7 857.9L955.4 817.6L956.4 817.6L958.1 842.8L959.6 831.9L961.0 836.1L962.1 844.5L963.5 854.6L965.5 825.2L967.3 849.5L969.0 831.9L970.2 831.1L971.4 824.4L972.7 842.8L974.4 869.7L976.4 855.4L977.7 854.6L979.4 845.4L980.6 844.5L981.6 827.7L983.1 849.5L984.5 869.7L985.6 845.4L987.5 879.8L989.5 842.0L991.5 885.6L993.7 866.3L995.7 858.8L997.4 869.7L998.7 865.5L1000.4 874.7L1002.1 871.4L1004.3 856.3L1006.3 871.4L1008.0 866.3L1009.6 849.5L1011.0 866.3L1012.5 856.3L1014.2 866.3L1015.5 845.4L1017.2 859.6L1018.9 869.7L1020.5 874.7L1022.2 873.0L1023.6 874.7L1025.2 855.4L1026.8 873.0L1028.4 868.0L1030.1 878.9L1032.0 858.8L1033.6 854.6L1035.3 863.0L1037.0 871.4L1038.7 884.8L1040.7 868.0L1042.4 856.3L1043.7 850.4L1044.9 859.6L1046.6 848.7L1047.7 849.5L1049.1 861.3L1050.4 865.5L1051.6 861.3L1052.8 873.0L1054.1 863.0L1055.8 863.0L1057.5 839.5L1059.2 842.8L1060.8 849.5L1062.0 859.6L1063.7 873.0L1065.5 856.3L1067.2 851.2L1068.4 844.5L1069.2 799.2L1070.6 794.1L1071.2 851.2L1072.6 873.0L1074.3 856.3L1075.6 863.0L1076.8 865.5L1078.0 869.7L1079.3 861.3L1081.0 873.0L1082.3 869.7L1084.3 845.4L1086.0 854.6L1087.7 859.6L1089.0 866.3L1090.5 873.9L1091.9 873.0L1093.6 879.8L1094.9 878.9L1096.6 861.3L1098.1 873.0L1099.4 872.2L1100.8 881.4L1102.5 872.2L1103.6 876.4L1104.8 874.7L1106.5 881.4L1108.7 854.6L1110.3 866.3L1111.5 868.0L1112.9 862.1L1114.2 863.8L1115.9 869.7L1117.1 863.8L1118.2 863.8L1119.6 850.4L1120.8 852.9L1122.1 867.2L1123.8 856.3L1125.5 800.0L1126.8 854.6L1128.3 865.5L1129.7 854.6L1131.0 854.6L1132.2 851.2L1133.8 836.1L1135.5 831.9L1136.9 854.6L1137.3 854.6L1137.3 891.90 Z" fill="#b22222"/>
<line x1="110.85" x2="110.85" y1="694.80" y2="901.20" stroke="#000" stroke-width="2.75"/>
<line x1="103.2" x2="110.85" y1="891.90" y2="891.90" stroke="#333" stroke-width="2.8"/>
<text x="97.6" y="901.20" font-size="24" letter-spacing="0.45" fill="#4d4d4d" text-anchor="end">0</text>
<line x1="103.2" x2="110.85" y1="844.38" y2="844.38" stroke="#333" stroke-width="2.8"/>
<text x="97.6" y="853.67" font-size="24" letter-spacing="0.45" fill="#4d4d4d" text-anchor="end">10</text>
<line x1="103.2" x2="110.85" y1="796.85" y2="796.85" stroke="#333" stroke-width="2.8"/>
<text x="97.6" y="806.15" font-size="24" letter-spacing="0.45" fill="#4d4d4d" text-anchor="end">20</text>
<line x1="103.2" x2="110.85" y1="749.32" y2="749.32" stroke="#333" stroke-width="2.8"/>
<text x="97.6" y="758.62" font-size="24" letter-spacing="0.45" fill="#4d4d4d" text-anchor="end">30</text>
<line x1="103.2" x2="110.85" y1="701.80" y2="701.80" stroke="#333" stroke-width="2.8"/>
<text x="97.6" y="711.10" font-size="24" letter-spacing="0.45" fill="#4d4d4d" text-anchor="end">40</text>
<text x="154.0" y="807.35" font-size="24" letter-spacing="0.12" fill="#1a1a1a" text-anchor="middle">KO2</text>
<path d="M243.4 1113.40L243.4 1092.2L244.2 1092.2L245.9 1078.8L247.6 1068.7L249.6 1088.8L251.4 1067.8L252.6 1071.2L253.8 1069.5L255.9 1088.8L258.1 1075.4L260.1 1087.2L262.3 1067.8L263.5 1069.5L265.5 1092.2L266.9 1091.3L268.5 1105.6L271.1 1087.2L273.1 1080.4L274.1 1080.4L275.4 1062.8L276.9 1078.8L278.3 1090.5L279.9 1090.5L282.3 1077.9L284.5 1088.8L286.2 1101.4L287.5 1086.3L289.9 1099.7L292.5 1083.0L293.7 1083.8L295.1 1092.2L296.2 1086.3L297.6 1090.5L299.6 1072.9L300.9 1071.2L302.4 1082.1L304.3 1061.1L305.8 1085.5L306.8 1099.7L308.0 1077.1L309.3 1064.5L310.8 1078.8L311.9 1090.5L313.5 1059.0L314.7 1064.5L316.4 1092.2L318.1 1072.0L319.2 1070.4L320.6 1074.6L322.3 1079.6L323.1 1086.3L324.3 1078.8L325.6 1090.5L327.0 1080.4L328.1 1090.5L329.8 1092.2L331.8 1087.2L333.5 1095.5L335.7 1087.2L337.4 1083.0L339.0 1082.1L339.9 1086.3L341.2 1068.7L342.4 1087.2L343.7 1096.4L345.4 1100.6L347.4 1075.4L348.3 1072.4L349.4 1072.4L350.8 1087.2L351.6 1094.7L353.3 1095.5L354.5 1098.1L356.2 1108.1L358.0 1099.7L359.5 1093.9L361.2 1094.7L363.4 1083.8L364.6 1083.8L365.9 1077.9L367.2 1075.4L368.9 1075.4L370.1 1085.5L371.8 1102.3L373.1 1102.3L375.1 1087.2L376.5 1087.2L378.5 1071.2L379.7 1087.2L381.0 1096.4L383.2 1104.8L384.7 1083.8L386.1 1062.0L387.7 1056.9L389.4 1063.7L390.8 1075.4L391.9 1092.2L393.1 1102.3L394.4 1091.3L396.1 1098.9L398.6 1107.3L400.6 1088.8L402.0 1086.3L403.2 1087.2L404.5 1098.1L406.2 1083.8L408.0 1067.8L409.2 1082.1L410.4 1095.5L412.4 1091.3L413.8 1094.7L415.4 1092.2L416.6 1094.7L418.3 1086.3L419.6 1090.5L421.0 1065.0L422.3 1083.0L423.8 1076.2L425.2 1078.8L426.7 1083.0L428.0 1101.4L430.0 1102.3L431.4 1101.4L432.7 1096.4L434.4 1109.0L436.1 1097.2L438.4 1110.7L439.8 1093.9L440.9 1077.1L442.3 1095.5L443.5 1096.4L444.5 1087.2L445.6 1087.2L447.6 1077.4L449.0 1084.6L450.2 1097.2L451.2 1085.5L452.4 1078.4L453.5 1085.5L454.9 1082.1L456.6 1090.5L457.9 1102.3L459.4 1092.2L460.8 1080.4L462.4 1069.5L463.8 1073.7L464.9 1073.7L466.6 1090.5L468.0 1077.9L469.1 1076.2L470.5 1068.7L472.0 1083.8L473.3 1097.2L475.0 1087.2L476.3 1068.7L478.0 1087.2L479.5 1098.9L480.9 1092.2L482.6 1106.5L484.2 1083.8L486.4 1056.6L488.1 1068.7L489.3 1068.7L490.9 1082.1L492.6 1090.5L494.3 1063.3L495.6 1073.7L496.8 1071.2L498.2 1073.7L499.7 1064.5L501.0 1085.5L503.2 1105.6L505.2 1096.4L506.4 1095.5L507.7 1100.6L509.1 1090.5L510.2 1089.7L511.4 1079.1L513.3 1090.5L515.3 1098.9L517.0 1088.8L518.6 1077.1L519.8 1070.0L521.2 1072.9L522.3 1072.4L524.0 1078.8L525.4 1090.5L526.7 1098.9L528.4 1086.3L530.4 1077.9L531.6 1087.2L532.6 1093.9L533.8 1083.0L535.1 1081.3L536.4 1071.2L538.0 1092.2L539.6 1093.0L541.0 1086.3L542.3 1057.3L543.8 1090.5L545.5 1092.2L547.7 1103.9L549.7 1087.2L550.9 1076.2L552.2 1090.5L553.4 1077.1L554.6 1065.0L555.9 1088.8L557.3 1102.3L558.9 1090.5L560.3 1085.5L561.5 1087.2L562.6 1090.5L564.0 1078.8L565.1 1076.2L566.5 1077.9L567.8 1064.5L569.0 1086.3L570.2 1099.7L571.5 1090.5L573.2 1086.3L574.0 1090.5L575.7 1082.1L577.1 1084.6L577.9 1083.8L579.1 1087.2L580.2 1084.6L581.6 1088.8L582.9 1087.2L584.1 1093.9L585.8 1103.9L587.5 1092.2L589.1 1089.7L590.5 1088.0L592.0 1075.7L593.4 1095.5L594.7 1107.3L596.2 1093.9L597.0 1088.8L598.0 1094.7L599.2 1077.9L600.1 1073.4L601.2 1090.5L602.6 1112.7L604.3 1095.5L605.4 1084.6L606.4 1078.8L607.6 1080.4L608.8 1080.4L609.8 1090.5L611.0 1092.2L612.6 1095.5L614.0 1087.2L615.2 1075.4L616.4 1070.0L617.4 1090.5L618.9 1103.9L620.2 1102.3L621.4 1098.9L622.7 1106.5L624.4 1087.2L626.1 1078.8L627.4 1068.7L628.4 1054.8L629.4 1072.0L630.8 1083.8L632.3 1098.9L633.6 1104.8L635.3 1098.9L637.0 1087.2L638.7 1076.2L639.5 1071.2L640.9 1081.3L642.4 1076.2L643.7 1080.4L645.4 1069.0L646.6 1077.1L647.9 1083.8L649.2 1078.8L650.4 1083.8L651.8 1075.4L653.1 1072.5L654.3 1082.1L655.5 1090.5L657.1 1098.1L659.7 1100.6L661.0 1097.2L662.5 1088.0L663.9 1087.2L665.2 1093.9L666.4 1101.4L668.0 1093.9L669.4 1084.6L670.6 1078.8L671.7 1090.5L672.8 1094.7L674.4 1078.8L675.6 1077.1L677.0 1072.0L678.1 1069.5L679.5 1062.0L681.0 1073.7L682.3 1085.5L683.7 1087.2L684.8 1088.0L686.2 1098.1L687.7 1078.8L688.7 1067.0L690.2 1082.1L692.1 1098.9L693.2 1093.0L694.4 1088.8L695.8 1095.5L697.1 1083.8L698.3 1075.9L699.6 1092.2L701.3 1109.8L703.3 1093.9L704.6 1097.2L705.8 1090.5L707.0 1082.1L708.3 1093.9L710.0 1083.8L710.8 1064.5L712.0 1063.7L713.4 1077.1L714.7 1085.5L715.9 1083.8L717.2 1071.7L718.4 1092.2L719.6 1108.1L721.4 1094.7L722.6 1098.9L724.3 1083.8L725.4 1080.4L726.8 1093.9L728.1 1082.1L729.5 1067.5L731.0 1087.2L732.7 1104.8L734.8 1096.4L736.0 1097.2L737.4 1075.4L738.5 1066.7L739.7 1069.5L741.1 1082.1L742.2 1077.9L744.1 1080.4L745.2 1090.5L746.6 1103.9L748.3 1093.9L749.6 1087.2L750.8 1089.7L751.6 1094.7L752.8 1090.5L754.5 1091.3L755.7 1088.0L757.0 1092.2L758.4 1088.0L759.4 1068.7L760.4 1055.6L761.5 1075.4L762.5 1065.3L764.0 1066.2L765.4 1082.1L767.1 1090.5L769.1 1077.9L770.4 1085.5L772.1 1093.9L773.5 1102.3L774.6 1090.5L775.5 1087.2L776.6 1093.9L778.0 1083.8L779.5 1076.2L780.8 1087.2L781.9 1094.7L783.9 1094.7L785.0 1097.2L786.7 1093.9L787.6 1083.8L788.6 1067.8L789.7 1080.4L790.9 1085.5L792.3 1080.4L793.4 1080.4L794.8 1093.9L796.1 1083.0L797.3 1084.6L798.6 1084.6L799.8 1093.9L800.6 1101.4L802.0 1093.9L803.2 1092.2L804.5 1093.9L806.5 1105.6L808.2 1093.9L809.9 1087.2L811.2 1077.9L812.4 1070.0L813.6 1077.1L814.4 1088.8L815.8 1092.2L817.4 1103.9L818.8 1093.0L820.0 1091.3L821.3 1098.9L822.5 1103.9L824.1 1087.2L825.3 1085.5L826.7 1088.8L828.0 1089.7L829.5 1102.3L830.9 1083.8L832.0 1067.5L833.4 1087.2L835.1 1102.3L836.7 1090.5L837.6 1086.3L838.8 1085.5L840.1 1102.3L841.3 1108.1L842.6 1092.2L843.8 1084.6L844.8 1082.1L845.6 1072.4L846.8 1082.1L848.0 1083.8L849.3 1082.1L850.5 1083.0L851.9 1075.4L853.2 1086.3L854.4 1095.5L855.7 1081.3L856.9 1087.2L858.2 1095.5L859.7 1082.1L861.1 1073.7L861.9 1077.9L863.1 1072.9L864.4 1085.5L865.6 1092.2L867.0 1092.2L868.1 1095.5L869.5 1085.5L870.8 1049.9L872.0 1082.1L873.3 1073.4L874.5 1087.2L876.2 1107.3L877.4 1087.2L878.4 1067.8L879.5 1083.8L880.4 1089.7L881.2 1088.8L882.9 1100.6L884.6 1072.0L885.4 1087.2L886.6 1104.8L888.3 1095.5L889.6 1087.2L890.8 1081.3L892.1 1090.5L893.5 1078.8L894.7 1084.6L895.8 1083.8L897.2 1079.6L898.4 1070.0L899.7 1082.1L901.4 1088.8L903.4 1083.0L904.7 1089.7L906.4 1097.2L908.1 1088.8L909.4 1082.1L910.6 1074.0L912.0 1077.9L913.5 1077.1L914.8 1090.5L916.1 1098.9L917.6 1089.7L919.0 1088.8L920.7 1078.8L921.9 1073.7L923.2 1074.0L924.5 1082.1L925.7 1083.8L926.9 1075.4L928.2 1066.7L929.4 1082.1L930.8 1098.9L931.9 1105.6L933.3 1090.5L935.0 1073.7L936.3 1083.8L937.5 1095.5L939.1 1104.8L940.8 1090.5L942.2 1075.4L943.7 1056.9L945.0 1100.6L947.0 1093.0L948.7 1091.3L950.4 1092.2L951.4 1078.8L952.5 1062.8L953.9 1079.6L955.4 1079.6L956.8 1090.5L957.6 1070.4L958.6 1046.0L959.8 1086.3L961.0 1088.0L962.3 1093.9L963.5 1082.1L964.6 1073.4L966.0 1086.3L967.2 1085.5L968.5 1090.5L969.8 1101.4L971.4 1088.8L972.7 1098.9L974.4 1092.2L975.7 1097.2L977.7 1110.7L979.4 1093.9L981.1 1075.7L982.3 1087.2L983.6 1098.9L985.3 1083.0L986.5 1077.1L987.8 1085.5L988.6 1084.6L989.6 1071.2L990.7 1088.8L992.0 1101.4L993.7 1087.2L995.4 1073.7L996.5 1079.6L997.9 1078.8L999.0 1090.5L1000.1 1098.9L1001.6 1075.4L1002.9 1075.4L1004.1 1085.5L1005.4 1103.1L1007.1 1087.2L1008.5 1077.9L1009.6 1087.2L1011.0 1094.7L1012.1 1093.9L1013.8 1091.3L1015.5 1092.2L1016.7 1097.2L1018.0 1087.2L1019.2 1103.1L1020.9 1093.9L1022.2 1086.3L1023.6 1087.2L1024.7 1088.0L1026.4 1101.4L1027.6 1090.5L1028.9 1083.8L1030.1 1088.8L1031.5 1094.7L1032.6 1092.2L1034.0 1093.9L1035.3 1080.4L1036.5 1074.0L1037.7 1087.2L1038.7 1088.8L1040.2 1098.9L1041.5 1090.5L1042.9 1083.8L1044.0 1088.8L1045.2 1087.2L1046.9 1076.6L1048.2 1090.5L1049.6 1092.2L1050.8 1095.5L1052.1 1098.1L1053.3 1094.7L1055.0 1090.5L1056.3 1083.8L1057.5 1072.9L1059.2 1070.0L1060.5 1076.2L1061.7 1078.8L1062.5 1087.2L1063.7 1099.7L1064.7 1075.4L1065.7 1063.3L1067.0 1077.1L1068.4 1093.9L1070.1 1093.0L1071.7 1092.2L1073.1 1082.1L1074.3 1067.0L1075.1 1053.6L1076.1 1028.4L1077.1 1053.6L1078.1 1068.7L1079.3 1090.5L1080.5 1096.4L1081.8 1090.5L1083.5 1081.3L1084.7 1093.9L1086.0 1103.1L1087.2 1087.2L1088.4 1074.6L1089.7 1088.8L1091.0 1093.0L1092.4 1092.2L1093.7 1080.1L1095.2 1092.2L1096.6 1093.0L1097.4 1088.8L1098.4 1079.1L1099.4 1090.5L1100.6 1098.9L1102.0 1098.1L1103.1 1096.4L1105.0 1108.1L1106.2 1092.2L1107.5 1081.8L1108.7 1088.8L1110.0 1093.0L1111.2 1088.0L1112.4 1093.9L1113.7 1093.9L1114.9 1072.0L1116.4 1051.1L1117.6 1068.7L1118.8 1087.2L1119.6 1088.8L1121.3 1072.4L1122.4 1085.5L1124.1 1093.0L1125.1 1091.3L1126.3 1090.5L1127.6 1093.0L1128.8 1079.6L1130.0 1093.9L1131.3 1093.0L1133.0 1091.3L1134.2 1092.2L1135.5 1095.5L1136.9 1095.5L1137.3 1095.5L1137.3 1113.40 Z" fill="#000000"/>
<line x1="110.85" x2="110.85" y1="916.30" y2="1122.70" stroke="#000" stroke-width="2.75"/>
<line x1="103.2" x2="110.85" y1="1113.40" y2="1113.40" stroke="#333" stroke-width="2.8"/>
<text x="97.6" y="1122.70" font-size="24" letter-spacing="0.45" fill="#4d4d4d" text-anchor="end">0</text>
<line x1="103.2" x2="110.85" y1="1065.88" y2="1065.88" stroke="#333" stroke-width="2.8"/>
<text x="97.6" y="1075.17" font-size="24" letter-spacing="0.45" fill="#4d4d4d" text-anchor="end">10</text>
<line x1="103.2" x2="110.85" y1="1018.35" y2="1018.35" stroke="#333" stroke-width="2.8"/>
<text x="97.6" y="1027.65" font-size="24" letter-spacing="0.45" fill="#4d4d4d" text-anchor="end">20</text>
<line x1="103.2" x2="110.85" y1="970.83" y2="970.83" stroke="#333" stroke-width="2.8"/>
<text x="97.6" y="980.12" font-size="24" letter-spacing="0.45" fill="#4d4d4d" text-anchor="end">30</text>
<line x1="103.2" x2="110.85" y1="923.30" y2="923.30" stroke="#333" stroke-width="2.8"/>
<text x="97.6" y="932.60" font-size="24" letter-spacing="0.45" fill="#4d4d4d" text-anchor="end">40</text>
<text x="154.0" y="1028.85" font-size="24" letter-spacing="0.12" fill="#1a1a1a" text-anchor="middle">Input</text>
<text transform="translate(51.7 577) rotate(-90)" font-size="30" letter-spacing="0.2" fill="#000" text-anchor="middle">bigWig</text>
<line x1="110.85" x2="110.85" y1="1161.1" y2="1297.7" stroke="#000" stroke-width="2.75"/>
<text transform="translate(51.7 1229) rotate(-90)" font-size="30" letter-spacing="0.45" fill="#000" text-anchor="middle">Genes</text>
<line x1="198.3" x2="1182.1" y1="1297.45" y2="1297.45" stroke="#000" stroke-width="2.85"/>
<line x1="408" x2="408" y1="1297.5" y2="1304.8" stroke="#333" stroke-width="2.8"/>
<text x="408.2" y="1328.6" font-size="24" letter-spacing="0.45" fill="#4d4d4d" text-anchor="middle">25775000</text>
<line x1="650" x2="650" y1="1297.5" y2="1304.8" stroke="#333" stroke-width="2.8"/>
<text x="650.2" y="1328.6" font-size="24" letter-spacing="0.45" fill="#4d4d4d" text-anchor="middle">25800000</text>
<line x1="892" x2="892" y1="1297.5" y2="1304.8" stroke="#333" stroke-width="2.8"/>
<text x="892.2" y="1328.6" font-size="24" letter-spacing="0.45" fill="#4d4d4d" text-anchor="middle">25825000</text>
<line x1="1134.2" x2="1134.2" y1="1297.5" y2="1304.8" stroke="#333" stroke-width="2.8"/>
<text x="1134.4" y="1328.6" font-size="24" letter-spacing="0.45" fill="#4d4d4d" text-anchor="middle">25850000</text>
 <text x="690.1" y="1363.8" font-size="30" letter-spacing="0.25" fill="#000" text-anchor="middle">chr5 position (bp)</text>
<line x1="263" x2="1137.5" y1="1266.4" y2="1266.4" stroke="#00008b" stroke-width="2.9"/>
<path d="M257.33 1260.95L262.63 1266.4L257.33 1271.85M275.20 1260.95L280.50 1266.4L275.20 1271.85M293.08 1260.95L298.38 1266.4L293.08 1271.85M310.95 1260.95L316.25 1266.4L310.95 1271.85M328.83 1260.95L334.13 1266.4L328.83 1271.85M346.70 1260.95L352.00 1266.4L346.70 1271.85M364.58 1260.95L369.88 1266.4L364.58 1271.85M382.45 1260.95L387.75 1266.4L382.45 1271.85M400.33 1260.95L405.63 1266.4L400.33 1271.85M418.20 1260.95L423.50 1266.4L418.20 1271.85M436.08 1260.95L441.38 1266.4L436.08 1271.85M453.95 1260.95L459.25 1266.4L453.95 1271.85M471.83 1260.95L477.13 1266.4L471.83 1271.85M489.70 1260.95L495.00 1266.4L489.70 1271.85M507.58 1260.95L512.88 1266.4L507.58 1271.85M525.46 1260.95L530.75 1266.4L525.46 1271.85M543.33 1260.95L548.63 1266.4L543.33 1271.85M561.21 1260.95L566.50 1266.4L561.21 1271.85M579.08 1260.95L584.38 1266.4L579.08 1271.85M596.96 1260.95L602.25 1266.4L596.96 1271.85M614.83 1260.95L620.13 1266.4L614.83 1271.85M632.71 1260.95L638.00 1266.4L632.71 1271.85M650.58 1260.95L655.88 1266.4L650.58 1271.85M668.46 1260.95L673.75 1266.4L668.46 1271.85M686.33 1260.95L691.63 1266.4L686.33 1271.85M704.21 1260.95L709.50 1266.4L704.21 1271.85M722.08 1260.95L727.38 1266.4L722.08 1271.85M739.96 1260.95L745.25 1266.4L739.96 1271.85M757.83 1260.95L763.13 1266.4L757.83 1271.85M775.71 1260.95L781.00 1266.4L775.71 1271.85M793.58 1260.95L798.88 1266.4L793.58 1271.85M811.46 1260.95L816.75 1266.4L811.46 1271.85M829.33 1260.95L834.63 1266.4L829.33 1271.85M847.21 1260.95L852.50 1266.4L847.21 1271.85M865.08 1260.95L870.38 1266.4L865.08 1271.85M882.96 1260.95L888.25 1266.4L882.96 1271.85M900.83 1260.95L906.13 1266.4L900.83 1271.85M918.71 1260.95L924.00 1266.4L918.71 1271.85M936.58 1260.95L941.88 1266.4L936.58 1271.85M954.46 1260.95L959.75 1266.4L954.46 1271.85M972.33 1260.95L977.63 1266.4L972.33 1271.85M990.21 1260.95L995.50 1266.4L990.21 1271.85M1008.08 1260.95L1013.38 1266.4L1008.08 1271.85M1025.95 1260.95L1031.26 1266.4L1025.95 1271.85M1043.83 1260.95L1049.13 1266.4L1043.83 1271.85M1061.70 1260.95L1067.01 1266.4L1061.70 1271.85M1079.58 1260.95L1084.88 1266.4L1079.58 1271.85M1097.45 1260.95L1102.76 1266.4L1097.45 1271.85M1115.33 1260.95L1120.63 1266.4L1115.33 1271.85M1133.20 1260.95L1138.51 1266.4L1133.20 1271.85" fill="none" stroke="#00008b" stroke-width="2.8" stroke-linejoin="miter"/>
<line x1="263.1" x2="263.1" y1="1257.10" y2="1275.70" stroke="#00008b" stroke-width="1.5"/>
<line x1="635.2" x2="635.2" y1="1257.10" y2="1275.70" stroke="#00008b" stroke-width="0.7"/>
<line x1="745" x2="745" y1="1257.10" y2="1275.70" stroke="#00008b" stroke-width="1.5"/>
<line x1="765.5" x2="765.5" y1="1257.10" y2="1275.70" stroke="#00008b" stroke-width="1.5"/>
<line x1="867.3" x2="867.3" y1="1257.10" y2="1275.70" stroke="#00008b" stroke-width="1.2"/>
<line x1="893.25" x2="893.25" y1="1257.10" y2="1275.70" stroke="#00008b" stroke-width="1.5"/>
<line x1="936.75" x2="936.75" y1="1257.10" y2="1275.70" stroke="#00008b" stroke-width="1.5"/>
<line x1="957" x2="957" y1="1257.10" y2="1275.70" stroke="#00008b" stroke-width="1.5"/>
<line x1="963.75" x2="963.75" y1="1257.10" y2="1275.70" stroke="#00008b" stroke-width="1.5"/>
<line x1="1118.9" x2="1118.9" y1="1257.10" y2="1275.70" stroke="#00008b" stroke-width="2.0"/>
<line x1="1125.5" x2="1125.5" y1="1257.10" y2="1275.70" stroke="#00008b" stroke-width="1.2"/>
 <rect x="1132.1" y="1257.10" width="5.8" height="18.6" fill="#00008b"/>
<text x="700.2" y="1223.8" font-size="18" letter-spacing="0.95" fill="#000" text-anchor="middle">Actr3b</text>
<text x="1228.5" y="459.5" font-size="30" letter-spacing="0" fill="#000">bw</text>
<rect x="1230" y="480" width="43.8" height="44" fill="#bebebe"/>
<text x="1291.6" y="510.7" font-size="24" letter-spacing="0.2" fill="#000">WT1</text>
<rect x="1230" y="528" width="43.8" height="44" fill="#bebebe"/>
<text x="1291.6" y="558.7" font-size="24" letter-spacing="0.2" fill="#000">WT2</text>
<rect x="1230" y="576" width="43.8" height="44" fill="#b22222"/>
<text x="1291.6" y="606.7" font-size="24" letter-spacing="0.2" fill="#000">KO1</text>
<rect x="1230" y="624" width="43.8" height="44" fill="#b22222"/>
<text x="1291.6" y="654.7" font-size="24" letter-spacing="0.2" fill="#000">KO2</text>
<rect x="1230" y="672" width="43.8" height="44" fill="#000000"/>
<text x="1291.6" y="702.7" font-size="24" letter-spacing="0.2" fill="#000">Input</text>
</svg></body></html>
